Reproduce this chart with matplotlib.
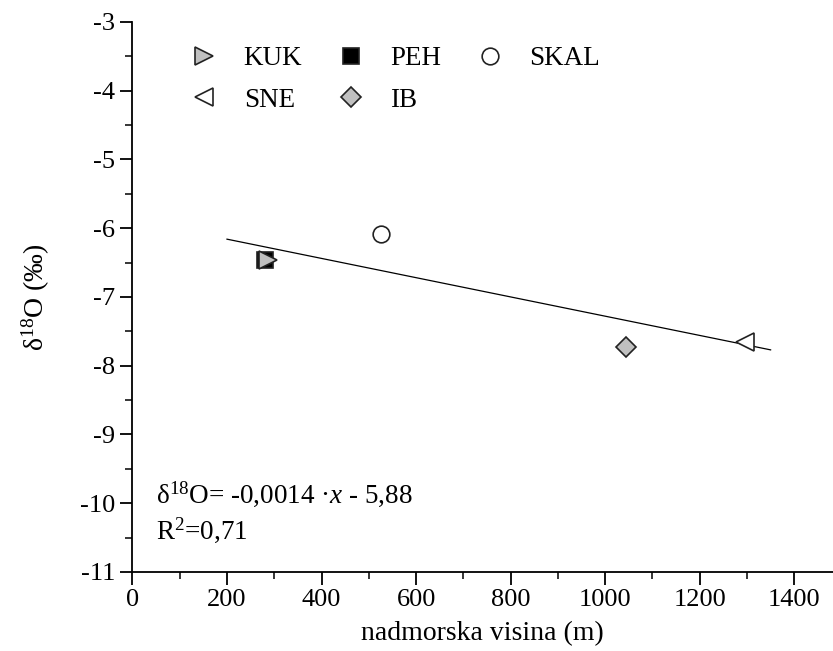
import matplotlib
matplotlib.use("Agg")
import matplotlib.pyplot as plt
from matplotlib.ticker import MultipleLocator

plt.rcParams['font.family'] = ['Liberation Serif', 'DejaVu Serif']
plt.rcParams['mathtext.fontset'] = 'custom'
plt.rcParams['mathtext.rm'] = 'Liberation Serif'
plt.rcParams['mathtext.it'] = 'Liberation Serif:italic'
plt.rcParams['axes.unicode_minus'] = False

# Data (altitude m, delta18O permil)
names = ["PEH", "KUK", "SKAL", "SNE", "IB"]
altitude = [280, 287, 526, 1296, 1044]
d18o = [-6.46, -6.46, -6.08, -7.65, -7.73]
markers = ["s", ">", "o", "<", "D"]
facecolors = ["black", "#c0c0c0", "white", "white", "#c0c0c0"]
sizes = [11.5, 13, 12, 13, 10.5]

line_x = [200, 1350]
line_y = [-6.16, -7.77]

fig = plt.figure(figsize=(8.33, 6.51), dpi=100)
ax = fig.add_axes([0.159, 0.1214, 0.841, 0.845])

ax.plot(line_x, line_y, color="black", lw=0.9, zorder=2)

handles = {}
for n, x, y, m, fc, s in zip(names, altitude, d18o, markers, facecolors, sizes):
    h, = ax.plot([x], [y], linestyle="none", marker=m, markersize=s,
                 markerfacecolor=fc, markeredgecolor="#222222", markeredgewidth=1.2,
                 label=n, zorder=3)
    handles[n] = h

order = ["KUK", "SNE", "PEH", "IB", "SKAL"]
ax.legend([handles[k] for k in order], order, ncol=3, frameon=False,
          loc="upper left", bbox_to_anchor=(0.068, 0.975), fontsize=19.5,
          handletextpad=0.95, columnspacing=1.3, labelspacing=0.6,
          handlelength=1.0, borderaxespad=0.0)

ax.set_xlim(0, 1482)
ax.set_ylim(-11, -3)
ax.xaxis.set_major_locator(MultipleLocator(200))
ax.xaxis.set_minor_locator(MultipleLocator(100))
ax.yaxis.set_major_locator(MultipleLocator(1))
ax.yaxis.set_minor_locator(MultipleLocator(0.5))
ax.spines['top'].set_visible(False)
ax.spines['right'].set_visible(False)
ax.spines['left'].set_linewidth(1.3)
ax.spines['bottom'].set_linewidth(1.3)
ax.tick_params(which='major', direction='out', length=9, width=1.3, labelsize=19)
ax.tick_params(which='minor', direction='out', length=5, width=1.1)

ax.set_xlabel("nadmorska visina (m)", fontsize=20, labelpad=7)
ax.set_ylabel("δ$^{18}$O (‰)", fontsize=20, labelpad=20)

ax.text(0.034, 0.142, "δ$^{18}$O= -0,0014 ·$x$ - 5,88", transform=ax.transAxes,
        fontsize=19.5, va="center", ha="left")
ax.text(0.034, 0.076, "R$^2$=0,71", transform=ax.transAxes,
        fontsize=19.5, va="center", ha="left")

fig.savefig("out.png", dpi=100)
